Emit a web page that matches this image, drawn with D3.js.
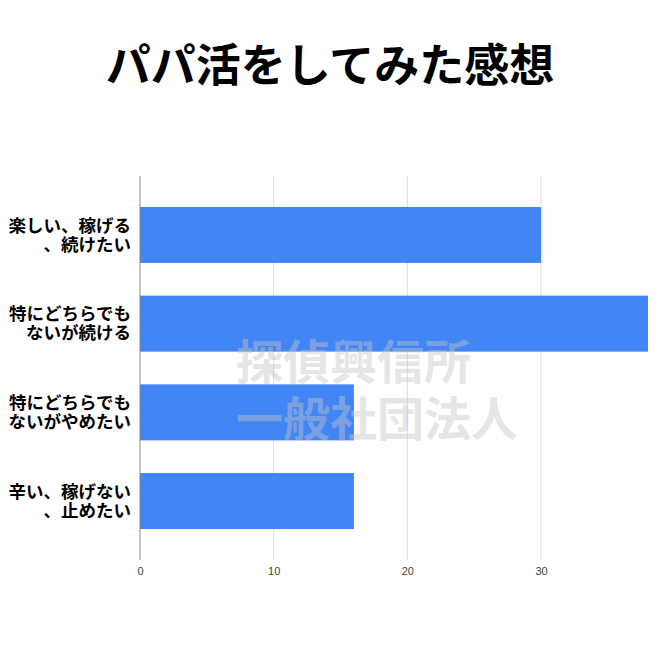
<!DOCTYPE html>
<html><head><meta charset="utf-8">
<script src="https://cdn.jsdelivr.net/npm/d3@7"></script>
<style>body{margin:0;background:#fff}svg{display:block}</style>
</head><body>
<svg id="c" width="660" height="660"></svg>
<script>
const categories = [["楽しい、稼げる","、続けたい"],["特にどちらでも","ないが続ける"],["特にどちらでも","ないがやめたい"],["辛い、稼げない","、止めたい"]];
const values = [30, 38, 16, 16];
const tickValues = [0, 10, 20, 30];
const title = "パパ活をしてみた感想";
const watermark = ["探偵興信所", "一般社団法人"];

const svg = d3.select("#c");
const font = "'Noto Sans CJK JP','Noto Sans',sans-serif";
svg.append("rect").attr("width",660).attr("height",660).attr("fill","#fff");

const x = d3.scaleLinear().domain([0, 38]).range([140, 648]);
const y = d3.scaleBand().domain(d3.range(categories.length)).range([176, 560]).paddingInner(0.369).paddingOuter(0.349);

svg.append("text").attr("x",330).attr("y",82).attr("text-anchor","middle")
  .attr("font-family",font).attr("font-weight","bold").attr("font-size",45).attr("fill","#000").text(title);

// gridlines
svg.append("g").selectAll("line").data(tickValues.filter(d=>d>0)).join("line")
  .attr("x1",d=>x(d)).attr("x2",d=>x(d)).attr("y1",176).attr("y2",560)
  .attr("stroke","#dcdcdc").attr("stroke-width",1);

// bars
svg.append("g").selectAll("rect").data(values).join("rect")
  .attr("x",x(0)).attr("y",(d,i)=>y(i)).attr("width",d=>x(d)-x(0)).attr("height",y.bandwidth())
  .attr("fill","#4285f4");

// zero axis
svg.append("line").attr("x1",x(0)).attr("x2",x(0)).attr("y1",176).attr("y2",560).attr("stroke","#888").attr("stroke-width",1);

// x tick labels
const xAxis = d3.axisBottom(x).tickValues(tickValues).tickSize(0).tickPadding(0);
const gx = svg.append("g").attr("transform","translate(0,567)").call(xAxis);
gx.select(".domain").remove();
gx.selectAll("text").attr("font-family","Arial,'Liberation Sans',sans-serif").attr("font-size",11).attr("fill","#444").attr("dy","0.71em");

// category labels
const lab = svg.append("g").selectAll("text").data(categories).join("text")
  .attr("text-anchor","end").attr("font-family",font).attr("font-weight","bold").attr("font-size",17.5).attr("fill","#000");
lab.each(function(d,i){
  const c = y(i)+y.bandwidth()/2;
  d3.select(this).selectAll("tspan").data(d).join("tspan")
    .attr("x",131).attr("y",(t,j)=>c - 9.5 + j*19).attr("dy","0.35em").text(t=>t);
});

// watermark
svg.append("g").selectAll("text").data(watermark).join("text")
  .attr("x",236).attr("y",(d,i)=>363+i*57).attr("dy","0.35em")
  .attr("font-family",font).attr("font-weight","bold").attr("font-size",47)
  .attr("fill","#c4c4c4").attr("fill-opacity",0.45).text(d=>d);
</script>
</body></html>
